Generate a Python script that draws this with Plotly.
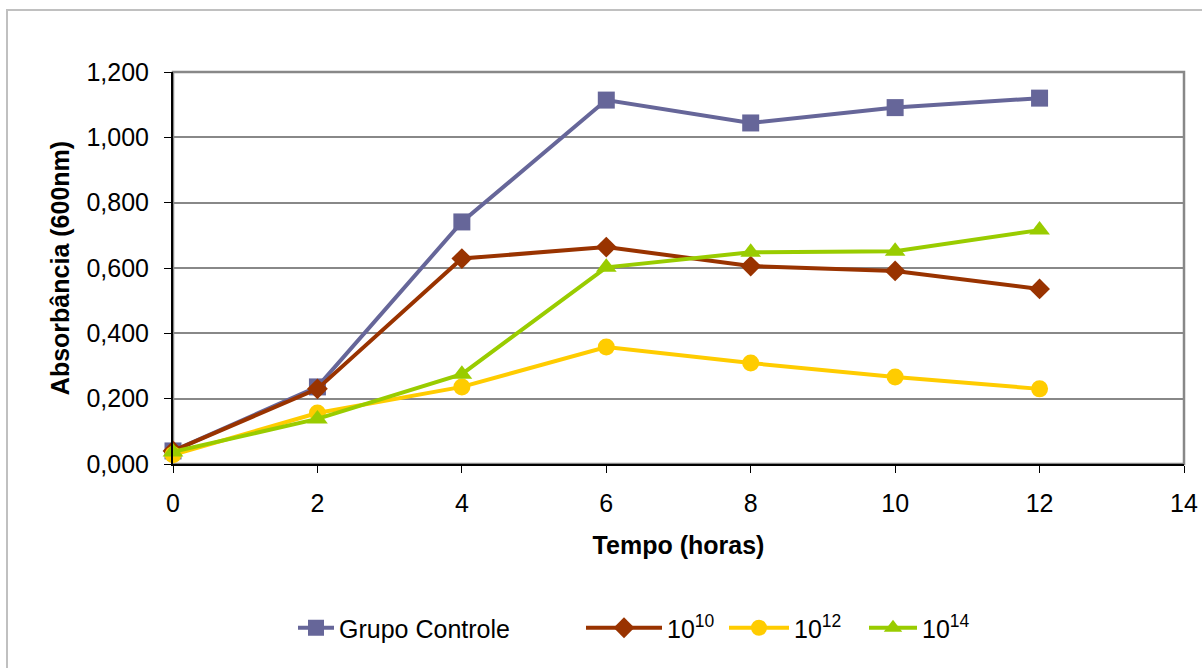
import plotly.graph_objects as go

tempo = [0, 2, 4, 6, 8, 10, 12]
controle = [0.040, 0.236, 0.741, 1.114, 1.044, 1.091, 1.120]
e10 = [0.040, 0.230, 0.629, 0.664, 0.606, 0.591, 0.536]
e12 = [0.028, 0.156, 0.236, 0.358, 0.309, 0.266, 0.230]
e14 = [0.037, 0.138, 0.275, 0.602, 0.648, 0.651, 0.716]

names = ["Grupo Controle", "10<sup>10</sup>", "10<sup>12</sup>", "10<sup>14</sup>"]
series = [controle, e10, e12, e14]
colors = ["#666699", "#993300", "#FFCC00", "#99CC00"]
symbols = ["square", "diamond", "circle", "triangle-up"]
msizes = [17, 16, 17, 18]
legend_ids = ["legend", "legend2", "legend3", "legend4"]
legend_px = [293, 581, 724, 864]
legend_iw = [36, 76, 60, 48]

L, R, T, B = 173, 1184, 72, 464
W, H = 1202, 668

fig = go.Figure()
for nm, ys, c, s, ms, lg in zip(names, series, colors, symbols, msizes, legend_ids):
    fig.add_trace(go.Scatter(x=tempo, y=ys, name=nm, mode="lines+markers",
                             line=dict(color=c, width=4),
                             marker=dict(symbol=s, size=ms, color=c),
                             legend=lg, cliponaxis=False))

FAM = "Liberation Sans, Arial"
font = dict(family=FAM, size=24, color="black")
layout_legends = {}
for lg, px, iw in zip(legend_ids, legend_px, legend_iw):
    layout_legends[lg] = dict(x=(px - L) / (R - L), xanchor="left",
                              y=-(628 - B) / (B - T), yanchor="middle",
                              orientation="h", font=dict(family=FAM, size=25, color="black"),
                              bgcolor="rgba(0,0,0,0)", itemwidth=iw,
                              tracegroupgap=0)

fig.update_layout(
    width=W, height=H,
    margin=dict(l=L, r=W - R, t=T, b=H - B, autoexpand=False),
    paper_bgcolor="white", plot_bgcolor="white",
    font=font,
    separators=",.",
    showlegend=True,
    **layout_legends,
    xaxis=dict(range=[0, 14], dtick=2, tick0=0, showgrid=False, zeroline=False,
               showline=True, linecolor="black", linewidth=2, automargin=False,
               ticks="outside", ticklen=7, tickcolor="black", tickwidth=1,
               ticklabelstandoff=9,
               tickfont=dict(size=25),
               title=dict(text="<b>Tempo (horas)</b>", font=dict(size=25), standoff=20)),
    yaxis=dict(range=[0, 1.2], dtick=0.2, tick0=0, tickformat=".3f",
               showgrid=True, gridcolor="#888888", gridwidth=1.5, zeroline=False,
               showline=True, linecolor="black", linewidth=2, automargin=False,
               ticks="outside", ticklen=7, tickcolor="black", tickwidth=1,
               ticklabelstandoff=10,
               tickfont=dict(size=25),
               title=dict(text="<b>Absorbância (600nm)</b>", font=dict(size=25), standoff=10)),
    shapes=[
        dict(type="rect", xref="paper", yref="paper", x0=0, x1=1, y0=0, y1=1,
             line=dict(color="#888888", width=2.5), layer="below"),
        dict(type="rect", xref="paper", yref="paper",
             x0=(7 - L) / (R - L), x1=(W + 20 - L) / (R - L),
             y0=-(H + 20 - B) / (B - T), y1=(B - 10) / (B - T),
             line=dict(color="#C0C0C0", width=2), layer="below"),
    ],
)

fig.write_html("out.html")
